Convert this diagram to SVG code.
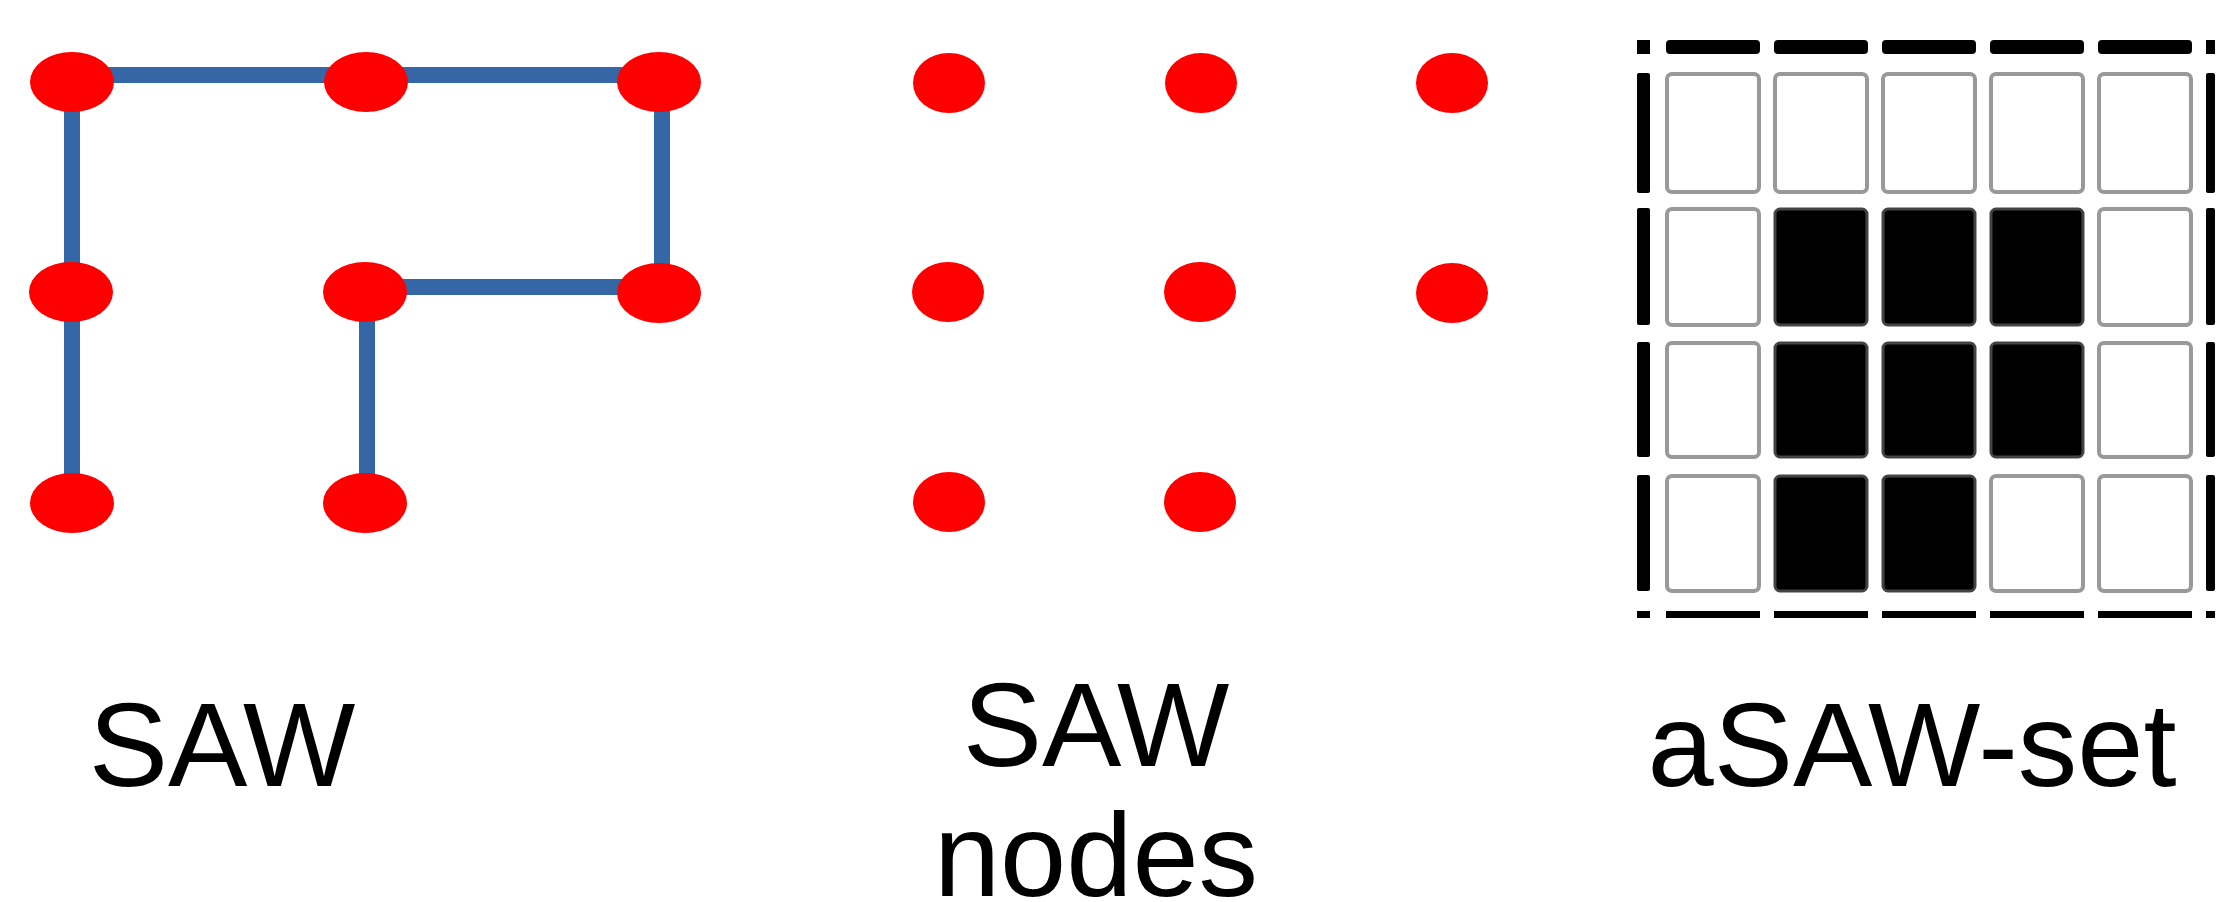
<svg xmlns="http://www.w3.org/2000/svg" width="2223" height="902" viewBox="0 0 2223 902">
<style>
.node{fill:#FF0000}
.edge{stroke:#3566A5;stroke-width:16;fill:none}
.lbl{font-family:"Liberation Sans",Arial,sans-serif;font-size:119px;fill:#000;text-anchor:middle}
.cw{fill:#fff;stroke:#999;stroke-width:4}
.cb{fill:#000;stroke:#444;stroke-width:3}
.bar{fill:#000}
</style>
<rect width="2223" height="902" fill="#fff"/>
<g id="connectors">
<line class="edge" x1="72" y1="503" x2="72" y2="75"/>
<line class="edge" x1="64" y1="75" x2="670" y2="75"/>
<line class="edge" x1="662" y1="67" x2="662" y2="295"/>
<line class="edge" x1="670" y1="287" x2="359" y2="287"/>
<line class="edge" x1="367" y1="279" x2="367" y2="503"/>
</g>
<g id="saw">
<g id="s1"><ellipse class="node" cx="72" cy="82" rx="42" ry="30"/></g>
<g id="s2"><ellipse class="node" cx="366" cy="82" rx="42" ry="30"/></g>
<g id="s3"><ellipse class="node" cx="659" cy="82" rx="42" ry="30"/></g>
<g id="s4"><ellipse class="node" cx="71" cy="292" rx="42" ry="30"/></g>
<g id="s5"><ellipse class="node" cx="365" cy="292" rx="42" ry="30"/></g>
<g id="s6"><ellipse class="node" cx="659" cy="293" rx="42" ry="30"/></g>
<g id="s7"><ellipse class="node" cx="72" cy="503" rx="42" ry="30"/></g>
<g id="s8"><ellipse class="node" cx="365" cy="503" rx="42" ry="30"/></g>
</g>
<g id="sawnodes">
<g id="n1"><ellipse class="node" cx="949" cy="83" rx="36" ry="30"/></g>
<g id="n2"><ellipse class="node" cx="1201" cy="83" rx="36" ry="30"/></g>
<g id="n3"><ellipse class="node" cx="1452" cy="83" rx="36" ry="30"/></g>
<g id="n4"><ellipse class="node" cx="948" cy="292" rx="36" ry="30"/></g>
<g id="n5"><ellipse class="node" cx="1200" cy="292" rx="36" ry="30"/></g>
<g id="n6"><ellipse class="node" cx="1452" cy="293" rx="36" ry="30"/></g>
<g id="n7"><ellipse class="node" cx="949" cy="502" rx="36" ry="30"/></g>
<g id="n8"><ellipse class="node" cx="1200" cy="502" rx="36" ry="30"/></g>
</g>
<g id="asaw-set">
<rect class="bar" x="1637" y="40" width="13" height="14"/>
<rect class="bar" x="1666" y="40" width="94" height="14" rx="4"/>
<rect class="bar" x="1774" y="40" width="94" height="14" rx="4"/>
<rect class="bar" x="1882" y="40" width="94" height="14" rx="4"/>
<rect class="bar" x="1990" y="40" width="94" height="14" rx="4"/>
<rect class="bar" x="2098" y="40" width="94" height="14" rx="4"/>
<rect class="bar" x="2206" y="40" width="9" height="14"/>
<rect class="bar" x="1637" y="73" width="13" height="120" rx="2"/>
<rect class="bar" x="1637" y="208" width="13" height="117" rx="2"/>
<rect class="bar" x="1637" y="342" width="13" height="115" rx="2"/>
<rect class="bar" x="1637" y="475" width="13" height="116" rx="2"/>
<rect class="bar" x="2206" y="73" width="9" height="120" rx="2"/>
<rect class="bar" x="2206" y="208" width="9" height="117" rx="2"/>
<rect class="bar" x="2206" y="342" width="9" height="115" rx="2"/>
<rect class="bar" x="2206" y="475" width="9" height="116" rx="2"/>
<rect class="bar" x="1637" y="611" width="13" height="7"/>
<rect class="bar" x="1666" y="611" width="94" height="7"/>
<rect class="bar" x="1774" y="611" width="94" height="7"/>
<rect class="bar" x="1882" y="611" width="94" height="7"/>
<rect class="bar" x="1990" y="611" width="94" height="7"/>
<rect class="bar" x="2098" y="611" width="94" height="7"/>
<rect class="bar" x="2206" y="611" width="9" height="7"/>
<rect class="cw" x="1667" y="74" width="92" height="118" rx="5"/>
<rect class="cw" x="1775" y="74" width="92" height="118" rx="5"/>
<rect class="cw" x="1883" y="74" width="92" height="118" rx="5"/>
<rect class="cw" x="1991" y="74" width="92" height="118" rx="5"/>
<rect class="cw" x="2099" y="74" width="92" height="118" rx="5"/>
<rect class="cw" x="1667" y="209" width="92" height="116" rx="5"/>
<rect class="cb" x="1775" y="209" width="92" height="116" rx="5"/>
<rect class="cb" x="1883" y="209" width="92" height="116" rx="5"/>
<rect class="cb" x="1991" y="209" width="92" height="116" rx="5"/>
<rect class="cw" x="2099" y="209" width="92" height="116" rx="5"/>
<rect class="cw" x="1667" y="343" width="92" height="114" rx="5"/>
<rect class="cb" x="1775" y="343" width="92" height="114" rx="5"/>
<rect class="cb" x="1883" y="343" width="92" height="114" rx="5"/>
<rect class="cb" x="1991" y="343" width="92" height="114" rx="5"/>
<rect class="cw" x="2099" y="343" width="92" height="114" rx="5"/>
<rect class="cw" x="1667" y="476" width="92" height="115" rx="5"/>
<rect class="cb" x="1775" y="476" width="92" height="115" rx="5"/>
<rect class="cb" x="1883" y="476" width="92" height="115" rx="5"/>
<rect class="cw" x="1991" y="476" width="92" height="115" rx="5"/>
<rect class="cw" x="2099" y="476" width="92" height="115" rx="5"/>
</g>
<g id="labels">
<text class="lbl" x="222" y="786">SAW</text>
<text class="lbl" x="1096" y="766">SAW</text>
<text class="lbl" x="1096" y="896">nodes</text>
<text class="lbl" x="1912" y="786">aSAW-set</text>
</g>
</svg>
